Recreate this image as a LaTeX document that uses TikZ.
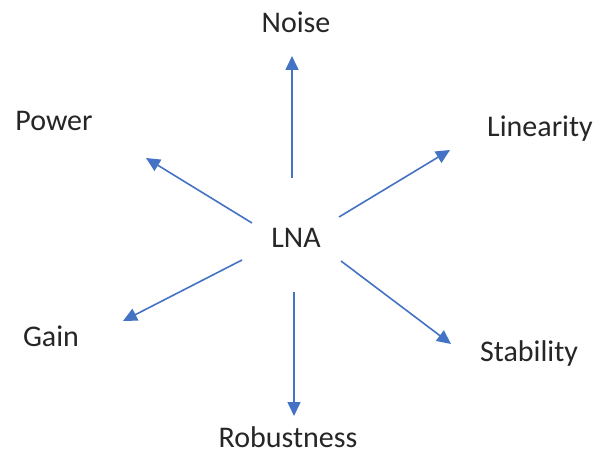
\documentclass[tikz,border=0pt]{standalone}
\usepackage{fontspec}
\setmainfont{Carlito}
\usetikzlibrary{arrows.meta}
\definecolor{officeblue}{HTML}{4472C4}
\begin{document}
\begin{tikzpicture}[x=1pt,y=-1pt,
  lbl/.style={font=\fontsize{30}{35}\selectfont, text=black!85, inner sep=0pt},
  spoke/.style={draw=officeblue, line width=1.6pt, -{Triangle[length=14pt,width=13pt]}}]
  \useasboundingbox[fill=white] (0,0) rectangle (596,454);
  \node[lbl] (lna) at (296,238) {LNA};
  \node[lbl] (noise) at (296,22) {Noise};
  \node[lbl] (power) at (54,121) {Power};
  \node[lbl] (lin) at (540,129) {Linearity};
  \node[lbl] (gain) at (51,336) {Gain};
  \node[lbl] (stab) at (529,353) {Stability};
  \node[lbl] (rob) at (288,437) {Robustness};
  % spoke end points around the centre
  \coordinate (sN) at (292,178); \coordinate (tN) at (292,56);
  \coordinate (sP) at (252,223); \coordinate (tP) at (146,158);
  \coordinate (sL) at (339,217); \coordinate (tL) at (450,150);
  \coordinate (sG) at (242,260); \coordinate (tG) at (123,321);
  \coordinate (sS) at (341,261); \coordinate (tS) at (451,344);
  \coordinate (sR) at (294,292); \coordinate (tR) at (294,416);
  \draw[spoke] (sN) -- (tN);
  \draw[spoke] (sP) -- (tP);
  \draw[spoke] (sL) -- (tL);
  \draw[spoke] (sG) -- (tG);
  \draw[spoke] (sS) -- (tS);
  \draw[spoke] (sR) -- (tR);
\end{tikzpicture}
\end{document}
